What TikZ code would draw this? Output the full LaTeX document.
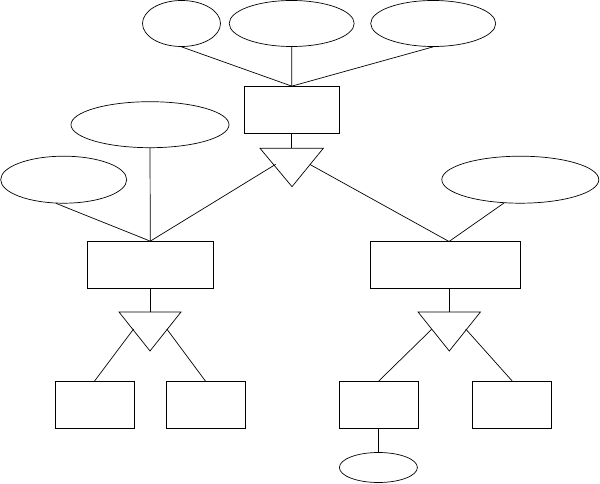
\documentclass[tikz,border=0pt]{standalone}
\usetikzlibrary{shapes.geometric,calc}
\begin{document}
\begin{tikzpicture}[x=1pt,y=-1pt,line width=0.7pt,
  ent/.style={draw,rectangle,inner sep=0pt,minimum width=#1,minimum height=47pt},
  attr/.style args={#1x#2}{draw,ellipse,inner sep=0pt,minimum width=#1,minimum height=#2},
  tri/.style={draw,line join=miter}]
\useasboundingbox (0,0) rectangle (600,484);
% entities
\node[ent=95pt]  (t) at (291.8,110) {};
\node[ent=126pt] (l) at (150.3,265) {};
\node[ent=150pt] (r) at (445.5,265) {};
\node[ent=79pt]  (a) at (94.5,405) {};
\node[ent=79pt]  (b) at (205.5,405) {};
\node[ent=78.6pt] (c) at (378.6,405) {};
\node[ent=79pt]  (d) at (512.3,405) {};
% attributes
\node[attr=78ptx46pt]  (e1) at (181.5,23.5) {};
\node[attr=125ptx46pt] (e2) at (291.7,23.5) {};
\node[attr=125ptx46pt] (e3) at (433.2,23.5) {};
\node[attr=158ptx46pt] (e4) at (150,124.7) {};
\node[attr=126ptx47pt] (e5) at (63.7,179.7) {};
\node[attr=157ptx47pt] (e6) at (520.3,179.7) {};
\node[attr=78ptx30pt]  (e7) at (378.4,467.5) {};
% triangles
\coordinate (t1a) at (260,148.3); \coordinate (t1b) at (323.3,148.3); \coordinate (t1c) at (292,186.7);
\coordinate (t2a) at (119,312);   \coordinate (t2b) at (181,312);     \coordinate (t2c) at (150,351);
\coordinate (t3a) at (418,312);   \coordinate (t3b) at (480.4,312);   \coordinate (t3c) at (449.3,351);
\draw[tri] (t1a) -- (t1b) -- (t1c) -- cycle;
\draw[tri] (t2a) -- (t2b) -- (t2c) -- cycle;
\draw[tri] (t3a) -- (t3b) -- (t3c) -- cycle;
% connection points
\coordinate (t1top) at (291.8,148.3);
\coordinate (t1l) at (275.7,164.3);
\coordinate (t1r) at (310,164.5);
\coordinate (t2top) at (150.3,312);
\coordinate (t2l) at (133.6,329);
\coordinate (t2r) at (166.8,329);
\coordinate (t3top) at (449,312);
\coordinate (t3l) at (432,329);
\coordinate (t3r) at (465.7,329);
\coordinate (rtop) at (449,241.5);
\coordinate (rbot) at (449,288.5);
% connectors
\draw (e1.south) -- (t.north);
\draw (e2.south) -- (t.north);
\draw (e3.south) -- (t.north);
\draw (t.south) -- (t1top);
\draw (t1l) -- (l.north);
\draw (t1r) -- (rtop);
\draw (e4.south) -- (l.north);
\draw (e5.-108) -- (l.north);
\draw (e6.-125) -- (rtop);
\draw (l.south) -- (t2top);
\draw (rbot) -- (t3top);
\draw (t2l) -- (a.north);
\draw (t2r) -- (b.north);
\draw (t3l) -- (c.north);
\draw (t3r) -- (d.north);
\draw (c.south) -- (e7.north);
\end{tikzpicture}
\end{document}
